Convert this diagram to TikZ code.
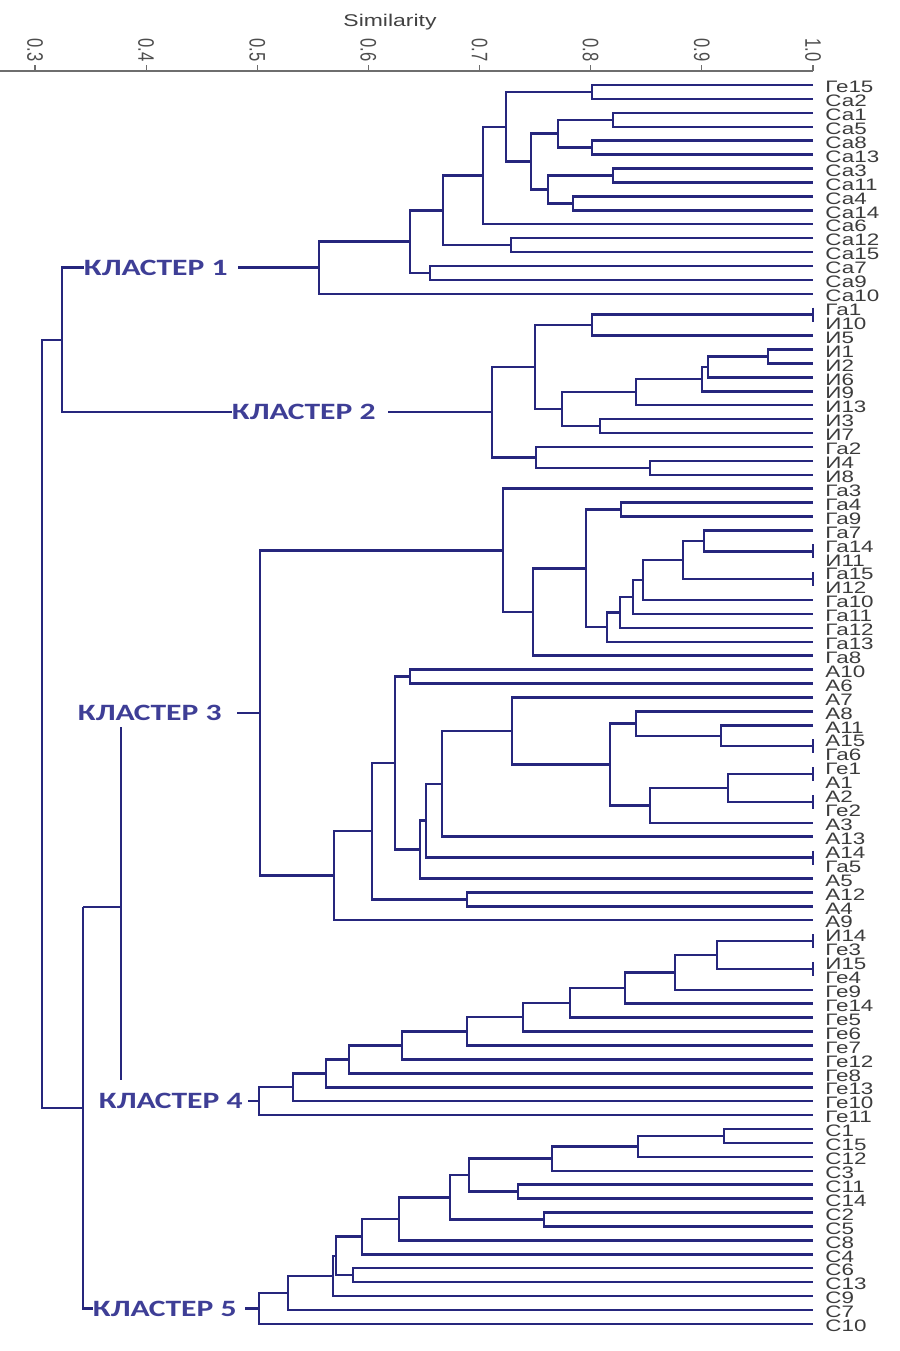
\documentclass[tikz,border=0pt]{standalone}
\usepackage{fontspec}
\setmainfont{Liberation Sans}
\newfontfamily\clfont{Carlito}
\usetikzlibrary{calc}
\definecolor{treec}{RGB}{38,38,125}
\definecolor{clc}{RGB}{62,62,150}
\definecolor{leafc}{RGB}{60,60,60}
\definecolor{axisc}{RGB}{110,110,110}
\newcommand\mrg[4]{%
  \path let \p1=(#3), \p2=(#4) in ({#2*0.5pt},{(\y1+\y2)/2}) coordinate (#1);
  \draw[dline] (#3) -| (#1) |- (#4);}
\begin{document}
\begin{tikzpicture}[x=0.5pt,y=-0.5pt,
  dline/.style={draw=treec,line width=1.25pt},
  axisl/.style={draw=axisc,line width=0.6pt},
  leaf/.style={text=leafc,inner sep=0pt,anchor=west,font=\fontsize{8.3pt}{8.3pt}\selectfont},
  ticklab/.style={text=axisc!70!black,inner sep=0pt,rotate=-90,anchor=east,font=\fontsize{8.3pt}{8.3pt}\selectfont},
  clab/.style={text=clc,inner sep=0pt,anchor=east,font=\clfont\bfseries\fontsize{11.7pt}{12pt}\selectfont}]
\useasboundingbox (0,0) rectangle (900,1351);
% axis
\draw[axisl] (0,71) coordinate (ax0) -- (813,71) coordinate (ax1);
\foreach \v/\s [count=\k] in {35/0.3,146.1/0.4,257.3/0.5,368.4/0.6,479.6/0.7,590.7/0.8,701.8/0.9,813/1.0}{
  \draw[axisl] (\v,65) -- (\v,71);
  \node[ticklab] (tk\k) at (\v,62) {\scalebox{1}[1.35]{\s}};
}
\node[text=axisc!60!black,font=\fontsize{8.5pt}{9pt}\selectfont] (sim) at (390,22) {\scalebox{1.35}[1]{Similarity}};
% leaves
\foreach \lab [count=\i from 0] in {Ге15,Са2,Са1,Са5,Са8,Са13,Са3,Са11,Са4,Са14,Са6,Са12,Са15,Са7,Са9,Са10,
Га1,И10,И5,И1,И2,И6,И9,И13,И3,И7,Га2,И4,И8,
Га3,Га4,Га9,Га7,Га14,И11,Га15,И12,Га10,Га11,Га12,Га13,Га8,
А10,А6,А7,А8,А11,А15,Га6,Ге1,А1,А2,Ге2,А3,А13,А14,Га5,А5,А12,А4,А9,
И14,Ге3,И15,Ге4,Ге9,Ге14,Ге5,Ге6,Ге7,Ге12,Ге8,Ге13,Ге10,Ге11,
С1,С15,С12,С3,С11,С14,С2,С5,С8,С4,С6,С13,С9,С7,С10}{
  \coordinate (l\i) at (813,{85+13.92*\i});
  \node[leaf] (t\i) at (825,{87+13.92*\i}) {\scalebox{1.35}[1]{\lab}};
}
% cluster 1
\mrg{m1}{592}{l0}{l1}
\mrg{m2}{613}{l2}{l3}
\mrg{m3}{592}{l4}{l5}
\mrg{m4}{558}{m2}{m3}
\mrg{m5}{613}{l6}{l7}
\mrg{m6}{573}{l8}{l9}
\mrg{m7}{548}{m5}{m6}
\mrg{m8}{531}{m4}{m7}
\mrg{m9}{506}{m1}{m8}
\mrg{m10}{483}{m9}{l10}
\mrg{m11}{511}{l11}{l12}
\mrg{m12}{443}{m10}{m11}
\mrg{m13}{430}{l13}{l14}
\mrg{m14}{410}{m12}{m13}
\mrg{c1}{319}{m14}{l15}
% cluster 2
\mrg{n1}{813}{l16}{l17}
\mrg{n2}{592}{n1}{l18}
\mrg{n3}{768}{l19}{l20}
\mrg{n4}{708}{n3}{l21}
\mrg{n5}{702}{n4}{l22}
\mrg{n6}{636}{n5}{l23}
\mrg{n7}{600}{l24}{l25}
\mrg{n8}{562}{n6}{n7}
\mrg{n9}{535}{n2}{n8}
\mrg{n10}{650}{l27}{l28}
\mrg{n11}{536}{l26}{n10}
\mrg{c2}{492}{n9}{n11}
% cluster 3a
\mrg{p1}{621}{l30}{l31}
\mrg{p2}{813}{l33}{l34}
\mrg{p3}{704}{l32}{p2}
\mrg{p4}{813}{l35}{l36}
\mrg{p5}{683}{p3}{p4}
\mrg{p6}{643}{p5}{l37}
\mrg{p7}{633}{p6}{l38}
\mrg{p8}{620}{p7}{l39}
\mrg{p9}{607}{p8}{l40}
\mrg{p10}{586}{p1}{p9}
\mrg{p11}{533}{p10}{l41}
\mrg{p12}{503}{l29}{p11}
% cluster 3b
\mrg{q1}{410}{l42}{l43}
\mrg{q2}{813}{l47}{l48}
\mrg{q3}{721}{l46}{q2}
\mrg{q4}{636}{l45}{q3}
\mrg{q5}{813}{l49}{l50}
\mrg{q6}{813}{l51}{l52}
\mrg{q7}{728}{q5}{q6}
\mrg{q8}{650}{q7}{l53}
\mrg{q9}{610}{q4}{q8}
\mrg{q10}{512}{l44}{q9}
\mrg{q11}{442}{q10}{l54}
\mrg{q12}{813}{l55}{l56}
\mrg{q13}{426}{q11}{q12}
\mrg{q14}{420}{q13}{l57}
\mrg{q15}{395}{q1}{q14}
\mrg{q16}{467}{l58}{l59}
\mrg{q17}{372}{q15}{q16}
\mrg{q18}{334}{q17}{l60}
\mrg{c3}{260}{p12}{q18}
% cluster 4
\mrg{r1}{813}{l61}{l62}
\mrg{r2}{813}{l63}{l64}
\mrg{r3}{717}{r1}{r2}
\mrg{r4}{675}{r3}{l65}
\mrg{r5}{625}{r4}{l66}
\mrg{r6}{570}{r5}{l67}
\mrg{r7}{523}{r6}{l68}
\mrg{r8}{467}{r7}{l69}
\mrg{r9}{402}{r8}{l70}
\mrg{r10}{349}{r9}{l71}
\mrg{r11}{326}{r10}{l72}
\mrg{r12}{293}{r11}{l73}
\mrg{c4}{259}{r12}{l74}
% cluster 5
\mrg{s1}{724}{l75}{l76}
\mrg{s2}{638}{s1}{l77}
\mrg{s3}{552}{s2}{l78}
\mrg{s4}{518}{l79}{l80}
\mrg{s5}{469}{s3}{s4}
\mrg{s6}{544}{l81}{l82}
\mrg{s7}{450}{s5}{s6}
\mrg{s8}{399}{s7}{l83}
\mrg{s9}{362}{s8}{l84}
\mrg{s10}{353}{l85}{l86}
\mrg{s11}{336}{s9}{s10}
\mrg{s12}{333}{s11}{l87}
\mrg{s13}{288}{s12}{l88}
\mrg{c5}{259}{s13}{l89}
% cluster labels
\node[clab] (L1) at ([xshift=-45.5pt]c1) {\scalebox{1.35}[1]{КЛАСТЕР 1}};
\node[clab] (L2) at ([xshift=-58pt]c2) {\scalebox{1.35}[1]{КЛАСТЕР 2}};
\node[clab] (L3) at ([xshift=-19pt]c3) {\scalebox{1.35}[1]{КЛАСТЕР 3}};
\node[clab] (L4) at ([xshift=-8pt]c4) {\scalebox{1.35}[1]{КЛАСТЕР 4}};
\node[clab] (L5) at ([xshift=-11pt]c5) {\scalebox{1.35}[1]{КЛАСТЕР 5}};
\draw[dline] ([xshift=5pt]L1.east) -- (c1);
\draw[dline] ([xshift=6pt]L2.east) -- (c2);
\draw[dline] ([xshift=7.5pt]L3.east) -- (c3);
\draw[dline] ([xshift=2.5pt]L4.east) -- (c4);
\draw[dline] ([xshift=4pt]L5.east) -- (c5);
% left tree
\coordinate (a1) at (62,0 |- L1.west);
\coordinate (a2) at (62,0 |- L2.west);
\draw[dline] (L1.west) -- (a1) -- (a2) -- (L2.west);
\coordinate (a12) at ($(a1)!0.5!(a2)$);
\coordinate (b0) at (42,0 |- a12);
\coordinate (b1) at (42,1108);
\coordinate (cc) at (83,1108);
\draw[dline] (a12) -- (b0) -- (b1) -- (cc);
\coordinate (d1) at (83,907);
\coordinate (d2) at (121,907);
\draw[dline] (d1) |- (L5.west);
\draw[dline] (d1) -- (d2);
\coordinate (e1) at ([yshift=-3pt]L3.south);
\coordinate (e2) at ([yshift=6.5pt]L4.north);
\draw[dline] (e1 -| d2) -- (e2 -| d2);
\end{tikzpicture}
\end{document}
